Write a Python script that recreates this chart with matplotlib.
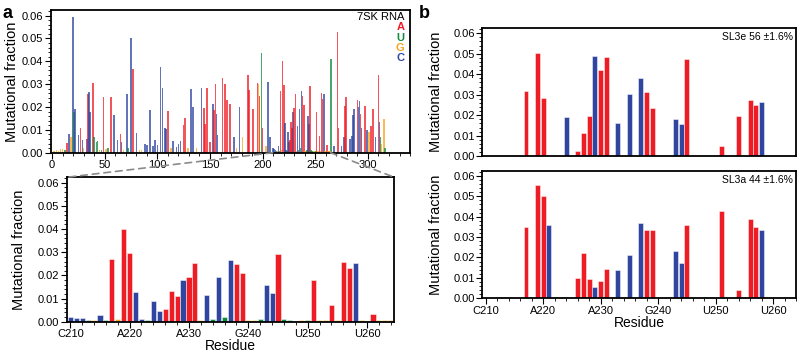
import matplotlib
matplotlib.use('Agg')
import matplotlib.pyplot as plt
from matplotlib.patches import ConnectionPatch
from matplotlib.ticker import MultipleLocator

plt.rcParams['font.family'] = ['Liberation Sans', 'DejaVu Sans']

# nucleotide colours
nt_colors = {'A': '#ee1c25', 'U': '#0f8a3c', 'G': '#f9a51b', 'C': '#2f45a0'}

# zoomed region 210-264 (panel a, bottom)
zoom_res = list(range(210, 265))
zoom_nt = list('CCCUGCUAGAACCUCCAAACAAGCUCUCAAGGUCCAUUUGUAGGAGAACGUAGGG')
zoom_val = [0.0022, 0.0017, 0.0014, 0.0006, 0.0008, 0.003, 0.0008, 0.027, 0.001, 0.040,
            0.0295, 0.013, 0.001, 0.0006, 0.009, 0.0045, 0.0055, 0.0133, 0.011, 0.018,
            0.0195, 0.0255, 0.0008, 0.0115, 0.0012, 0.0192, 0.0022, 0.0268, 0.025, 0.021,
            0.0008, 0.0008, 0.001, 0.016, 0.0125, 0.0292, 0.001, 0.0007, 0.0005, 0.0008,
            0.0006, 0.018, 0.0006, 0.0006, 0.0072, 0.0006, 0.026, 0.0233, 0.0255, 0.0009,
            0.0005, 0.0032, 0.0006, 0.0008, 0.0008]

# full 7SK profile outside the zoomed region (panel a, top)
top_res = [2, 4, 6, 8, 10, 12, 14, 16, 18, 20, 21, 22, 25, 27, 29, 30, 33, 34, 35, 36,
           39, 40, 42, 43, 45, 47, 49, 51, 53, 56, 59, 62, 65, 66, 68, 71, 72, 75, 77, 80,
           83, 85, 88, 90, 93, 96, 98, 100, 103, 105, 107, 108, 110, 113, 115, 118, 120, 122, 125, 126,
           129, 132, 134, 137, 142, 144, 145, 147, 150, 153, 154, 155, 156, 157, 162, 164, 166, 169, 173, 175,
           178, 181, 186, 187, 191, 195, 196, 197, 199, 200, 203, 205, 207, 265, 268, 271, 272, 275, 277, 278,
           279, 283, 285, 286, 287, 290, 291, 292, 293, 294, 297, 299, 301, 303, 305, 307, 310, 311, 312, 313,
           315, 316]
top_nt = list('GGGGGUACGCUCCACGCACC'
              'AUUUGUAGUACCACGCUCAC'
              'GGCCCCCCCCCCAGCCCCAA'
              'GCCGCAAAACAACCAAAACG'
              'CGAAAAGAUAGCCUCAACCA'
              'ACCCCACCACACGAACACUG'
              'GU')
top_val = [0.0008, 0.001, 0.0008, 0.0015, 0.0015, 0.001, 0.0043, 0.0084, 0.007, 0.0594, 0.018, 0.0193, 0.0077, 0.0106, 0.0055, 0.002, 0.006, 0.0255, 0.0264, 0.018,
           0.0304, 0.007, 0.0045, 0.005, 0.001, 0.001, 0.0243, 0.0015, 0.002, 0.0243, 0.0164, 0.0055, 0.008, 0.0045, 0.001, 0.0258, 0.002, 0.050, 0.0367, 0.0088,
           0.001, 0.001, 0.004, 0.0035, 0.0186, 0.003, 0.0055, 0.0035, 0.0374, 0.0284, 0.011, 0.0105, 0.0183, 0.002, 0.005, 0.0025, 0.004, 0.005, 0.012, 0.015,
           0.002, 0.028, 0.020, 0.002, 0.0284, 0.0197, 0.0127, 0.0284, 0.0045, 0.0212, 0.0185, 0.0301, 0.017, 0.0077, 0.0328, 0.030, 0.023, 0.0215, 0.007, 0.002,
           0.020, 0.007, 0.034, 0.0275, 0.0193, 0.0304, 0.030, 0.0246, 0.0436, 0.0106, 0.003, 0.031, 0.007, 0.0409, 0.003, 0.0529, 0.0106, 0.003, 0.007, 0.0206,
           0.0243, 0.006, 0.0075, 0.0164, 0.019, 0.0232, 0.020, 0.0225, 0.017, 0.011, 0.0203, 0.0099, 0.009, 0.0115, 0.0193, 0.007, 0.034, 0.0135, 0.007, 0.004,
           0.0149, 0.002]

# panel b: SL3e and SL3a clusters
sl3e_res = [217, 219, 220, 224, 226, 227, 228, 229, 230, 231, 233, 235, 237, 238, 239, 243, 244, 245, 251, 254, 256, 257, 258]
sl3e_val = [0.0316, 0.0502, 0.0283, 0.0194, 0.0024, 0.0112, 0.0197, 0.049, 0.042, 0.0486, 0.0161, 0.0302, 0.0382, 0.0314,
            0.0237, 0.0182, 0.0156, 0.0472, 0.005, 0.0197, 0.0276, 0.0249, 0.0267]
sl3a_res = [217, 219, 220, 221, 226, 227, 228, 229, 230, 231, 233, 235, 237, 238, 239, 243, 244, 245, 251, 254, 256, 257, 258]
sl3a_val = [0.035, 0.0554, 0.050, 0.0358, 0.0098, 0.0221, 0.0095, 0.0054, 0.0083, 0.0142, 0.0137, 0.0212, 0.0371, 0.0335,
            0.0334, 0.023, 0.0175, 0.036, 0.043, 0.0043, 0.039, 0.035, 0.0337]

nt_of = dict(zip(zoom_res, zoom_nt))
tick_res = [210, 220, 230, 240, 250, 260]
tick_labels = [nt_of[r] + str(r) for r in tick_res]

fig = plt.figure(figsize=(8, 3.53), dpi=100)

ax_full = fig.add_axes([0.0638, 0.5674, 0.4488, 0.4042])
ax_zoom = fig.add_axes([0.0834, 0.0887, 0.4095, 0.4091])
ax_e = fig.add_axes([0.6029, 0.5572, 0.3921, 0.3626])
ax_a = fig.add_axes([0.6029, 0.1550, 0.3921, 0.3606])


def style_axes(ax):
    for s in ax.spines.values():
        s.set_linewidth(1.3)
    ax.set_ylim(0, 0.0624)
    ax.yaxis.set_minor_locator(MultipleLocator(0.002))
    ax.set_yticks([0, 0.01, 0.02, 0.03, 0.04, 0.05, 0.06])
    ax.set_yticklabels(['0.00', '0.01', '0.02', '0.03', '0.04', '0.05', '0.06'])
    ax.tick_params(which='major', direction='out', length=4, width=0.8, labelsize=8, pad=1.5)
    ax.tick_params(which='minor', direction='out', length=2, width=0.6)
    ax.set_ylabel('Mutational fraction', fontsize=10.5)


# panel a top: whole RNA
all_res = top_res + zoom_res
all_nt = top_nt + zoom_nt
all_val = top_val + zoom_val
ax_full.bar(all_res, all_val, width=1.5, color=[nt_colors[n] for n in all_nt], alpha=0.75, linewidth=0)
style_axes(ax_full)
ax_full.set_xlim(-1, 340)
ax_full.xaxis.set_major_locator(MultipleLocator(50))
ax_full.xaxis.set_minor_locator(MultipleLocator(10))
ax_full.yaxis.set_label_coords(-0.088, 0.5)
ax_full.text(0.985, 0.95, '7SK RNA', transform=ax_full.transAxes, ha='right', va='center', fontsize=8)
for i, n in enumerate('AUGC'):
    ax_full.text(0.985, 0.88 - i * 0.073, n, transform=ax_full.transAxes, ha='right', va='center',
                 fontsize=8, fontweight='bold', color=nt_colors[n])

# panel a bottom: zoom 210-264
ax_zoom.bar(zoom_res, zoom_val, width=0.86, color=[nt_colors[n] for n in zoom_nt],
            edgecolor=(1, 1, 1, 0.55), linewidth=0.6)
style_axes(ax_zoom)
ax_zoom.set_xlim(209.4, 264.6)
ax_zoom.set_xticks(tick_res)
ax_zoom.set_xticklabels(tick_labels)
ax_zoom.xaxis.set_minor_locator(MultipleLocator(2))
ax_zoom.set_xlabel('Residue', fontsize=10, labelpad=0)
ax_zoom.yaxis.set_label_coords(-0.124, 0.5)

# dashed zoom connectors
for xd, xa in [(209.5, 0), (264.5, 1)]:
    con = ConnectionPatch(xyA=(xd, 0), coordsA=ax_full.transData, xyB=(xa, 1), coordsB=ax_zoom.transAxes,
                          color='#8a8a8a', linestyle=(0, (4, 3)), linewidth=1.2)
    fig.add_artist(con)

# panel b
for ax, res, val, label in [(ax_e, sl3e_res, sl3e_val, 'SL3e 56 \u00b11.6%'),
                            (ax_a, sl3a_res, sl3a_val, 'SL3a 44 \u00b11.6%')]:
    ax.bar(res, val, width=0.86, color=[nt_colors[nt_of[r]] for r in res],
           edgecolor=(1, 1, 1, 0.55), linewidth=0.6)
    style_axes(ax)
    ax.set_xlim(209.4, 264.0)
    ax.yaxis.set_label_coords(-0.125, 0.5)
    ax.text(0.99, 0.93, label, transform=ax.transAxes, ha='right', va='center', fontsize=7.5)

ax_e.set_xticks([])
ax_a.set_xticks(tick_res)
ax_a.set_xticklabels(tick_labels)
ax_a.xaxis.set_minor_locator(MultipleLocator(2))
ax_a.set_xlabel('Residue', fontsize=10, labelpad=0)

fig.text(0.003, 0.963, 'a', fontsize=13, fontweight='bold', va='center')
fig.text(0.523, 0.963, 'b', fontsize=13, fontweight='bold', va='center')

plt.savefig('out.png', dpi=100)
